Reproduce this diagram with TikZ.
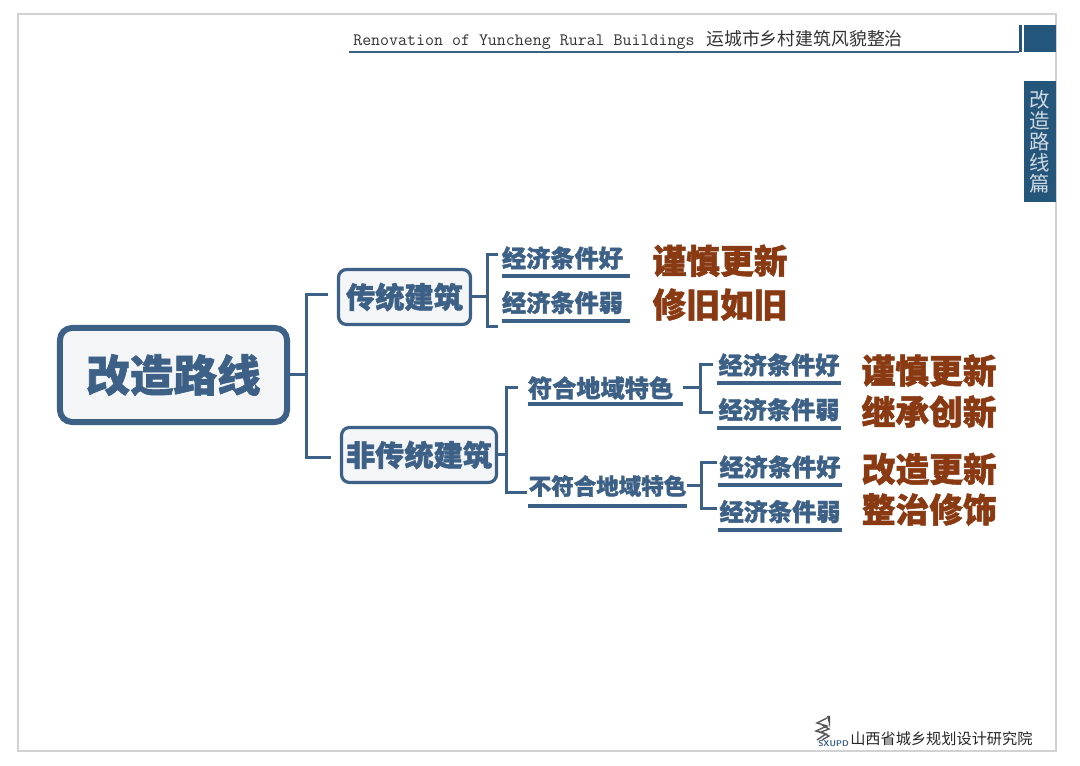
\documentclass[tikz,border=0pt]{standalone}
\usepackage{fontspec}
\usepackage{xcolor}
\usetikzlibrary{positioning}
\newfontfamily\cjk{Noto Sans CJK SC}
\newfontfamily\blockfont[BoldFeatures={FakeBold=1.5}]{Noto Sans CJK SC}
\definecolor{slate}{HTML}{3D6186}
\definecolor{tabblue}{HTML}{24557A}
\definecolor{rust}{HTML}{8A3A12}
\definecolor{paleblue}{HTML}{F4F5F7}
\definecolor{framegray}{HTML}{D2D2D2}

\begin{document}
\begin{tikzpicture}[x=0.025cm, y=-0.025cm, every node/.style={inner sep=0pt}]
\tikzstyle{rootbox}=[rectangle, draw=slate, fill=paleblue, rounded corners=0.3cm, line width=0.15cm, minimum width=5.675cm, minimum height=2.35cm, text=slate, font=\blockfont\bfseries\fontsize{31}{31}\selectfont]
\tikzstyle{kindbox}=[rectangle, draw=slate, fill=paleblue, rounded corners=0.2cm, line width=0.08cm, minimum height=1.375cm, text=slate, font=\blockfont\bfseries\fontsize{20.8}{21}\selectfont]
\tikzstyle{leaf}=[minimum width=3.1cm, minimum height=0.9cm, text=slate, font=\blockfont\bfseries\fontsize{17.2}{18}\selectfont]
\tikzstyle{region}=[text=slate, font=\blockfont\bfseries\fontsize{17.2}{18}\selectfont]
\tikzstyle{result}=[text=rust, font=\blockfont\bfseries\fontsize{24}{24}\selectfont]
\tikzstyle{link}=[draw=slate, line width=0.075cm]
\tikzstyle{rule}=[draw=slate, line width=0.1cm]
\useasboundingbox (0,0) rectangle (1080,766);
\draw[framegray, line width=0.03cm] (18,14) rectangle (1056,751);
% header
\node[anchor=west, text=black!80] (title) at (353,39.5) {\ttfamily\fontsize{12.4}{13}\selectfont Renovation of Yuncheng Rural Buildings\hspace{0.07cm} \cjk\fontsize{12.7}{13}\selectfont 运城市乡村建筑风貌整治};
\coordinate (headstart) at (349,52);
\coordinate (headend) at (1019,52);
\draw[draw=slate, line width=0.055cm] (headstart) -- (headend);
\fill[tabblue] (1019,25) rectangle (1022,52);
\fill[tabblue] (1024,25) rectangle (1056,52);
\node[fill=tabblue, minimum width=0.8cm, minimum height=3.025cm, align=center, text=white!78!tabblue, font=\cjk\fontsize{14.5}{15}\selectfont] (tab) at (1040,141.5) {改\\造\\路\\线\\篇};
% tree
\node[rootbox] (route) at (173.5,375) {改造路线};
\node[kindbox, minimum width=3.3cm] (trad) at (404.5,297) {传统建筑};
\node[kindbox, minimum width=3.875cm] (nontrad) at (419,455) {\raisebox{-0.07cm}{非传统建筑}};
\node[leaf, text width=3.2cm, align=left] (tradgood) at (566,258) {经济条件好};
\node[leaf, text width=3.2cm, align=left, below=0.2cm of tradgood] (tradweak) {经济条件弱};
\node[result, right=0.55cm of tradgood, yshift=-0.07cm] (tradgoodres) {谨慎更新};
\node[result, right=0.55cm of tradweak, yshift=-0.05cm] (tradweakres) {修旧如旧};
\node[region, text width=3.875cm, align=left, minimum height=0.8cm] (fit) at (605.5,388) {符合地域特色};
\node[region, minimum width=3.925cm, minimum height=1cm, font=\blockfont\bfseries\fontsize{16}{17}\selectfont] (unfit) at (607.5,486) {不符合地域特色};
\node[leaf] (fitgood) at (779,365) {经济条件好};
\node[leaf, below=0.2cm of fitgood] (fitweak) {经济条件弱};
\node[leaf] (unfitgood) at (780,467) {经济条件好};
\node[leaf, below=0.2cm of unfitgood] (unfitweak) {经济条件弱};
\node[result, right=0.5cm of fitgood, yshift=-0.14cm] (fitgoodres) {谨慎更新};
\node[result, right=0.5cm of fitweak, yshift=-0.05cm] (fitweakres) {继承创新};
\node[result, right=0.48cm of unfitgood, yshift=-0.05cm] (unfitgoodres) {改造更新};
\node[result, right=0.48cm of unfitweak, yshift=0.05cm] (unfitweakres) {整治修饰};
% joints and bracket tips
\coordinate (routejoin) at (306,375);
\coordinate (routetop) at (328,295);
\coordinate (routebot) at (331,458);
\coordinate (tradjoin) at (487,297);
\coordinate (tradtop) at (498,255);
\coordinate (tradbot) at (498,327);
\coordinate (nontradjoin) at (506,455);
\coordinate (nontradtop) at (518,388);
\coordinate (nontradbot) at (527,493);
\coordinate (fitjoin) at (700,388);
\coordinate (fittop) at (713,365);
\coordinate (fitbot) at (713,413);
\coordinate (unfitjoin) at (701,486);
\coordinate (unfittop) at (717,463);
\coordinate (unfitbot) at (717,509);
\draw[link] (route.east) -- (routejoin);
\draw[link] (routetop) -| (routejoin);
\draw[link] (routebot) -| (routejoin);
\draw[link] (trad.east) -- (tradjoin);
\draw[link] (tradtop) -| (tradjoin);
\draw[link] (tradbot) -| (tradjoin);
\draw[link] (nontrad.east) -- (nontradjoin);
\draw[link] (nontradtop) -| (nontradjoin);
\draw[link] (nontradbot) -| (nontradjoin);
\draw[link] (fit.east) -- (fitjoin);
\draw[link] (fittop) -| (fitjoin);
\draw[link] (fitbot) -| (fitjoin);
\draw[link] (unfit.east) -- (unfitjoin);
\draw[link] (unfittop) -| (unfitjoin);
\draw[link] (unfitbot) -| (unfitjoin);
\foreach \name in {tradgood, tradweak, fit, unfit, fitgood, fitweak, unfitgood, unfitweak}
  \draw[rule] (\name.south west) -- (\name.south east);
% logo
\draw[black!65, line width=0.035cm] (817,740) -- (826,734) -- (816,731) -- (827,726) -- (817,723) -- (827,718);
\draw[black!65, line width=0.035cm] (822,740) -- (829,736) -- (821,732) -- (829,729) -- (822,725);
\fill[black!70] (827,716) -- (830,716) -- (830,728) -- cycle;
\node[anchor=west, text=slate, font=\sffamily\bfseries\fontsize{6}{6}\selectfont] (logotext) at (818,743.5) {SXUPD};
\node[anchor=west, text=black!85, font=\blockfont\fontsize{10.8}{11}\selectfont] (institute) at (850,739) {山西省城乡规划设计研究院};
\end{tikzpicture}
\end{document}
